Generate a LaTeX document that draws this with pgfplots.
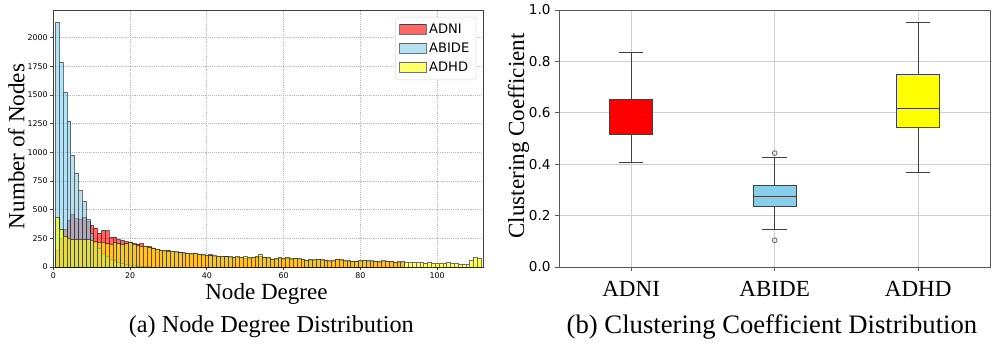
\documentclass[border=0pt]{standalone}
\usepackage{fontspec}
\setmainfont{Liberation Serif}
\newfontfamily\djv{DejaVu Sans}
\usepackage{pgfplots}
\usepackage{pgfplotstable}
\pgfplotsset{compat=1.18}
\usepgfplotslibrary{statistics}

\definecolor{adni}{RGB}{255,0,0}
\definecolor{abide}{RGB}{135,206,235}
\definecolor{adhd}{RGB}{255,255,0}
\definecolor{gridgray}{RGB}{208,208,208}

% histogram counts, one bin per node degree
\pgfplotstableread{
deg n
1 150
2 250
3 330
4 410
5 460
6 425
7 420
8 435
9 400
10 364
11 340
12 295
13 320
14 318
15 258
16 262
17 240
18 232
19 222
20 215
21 205
22 200
23 205
24 182
25 178
26 168
27 152
28 150
29 140
30 150
31 135
32 130
33 128
34 122
35 118
36 115
37 120
38 108
39 105
40 100
41 108
42 98
43 92
44 90
45 92
46 88
47 85
48 88
49 82
50 80
51 78
52 82
53 88
54 98
55 84
56 78
57 70
58 72
59 76
60 70
61 80
62 72
63 74
64 68
65 64
66 58
67 62
68 60
69 66
70 60
71 62
72 52
73 54
74 66
75 60
76 52
77 54
78 50
79 46
80 54
81 56
82 54
83 50
84 46
85 44
86 50
87 46
88 48
89 40
90 42
91 40
}\adni

\pgfplotstableread{
deg n
1 2134
2 1787
3 1525
4 1272
5 975
6 821
7 667
8 571
9 416
10 295
11 215
12 160
13 120
14 92
15 72
16 58
17 44
18 34
19 26
20 19
21 13
22 9
23 6
24 4
25 3
26 2
}\abide

\pgfplotstableread{
deg n
1 437
2 330
3 270
4 255
5 238
6 240
7 240
8 238
9 238
10 236
11 225
12 215
13 218
14 205
15 200
16 212
17 205
18 195
19 205
20 212
21 200
22 188
23 182
24 180
25 170
26 162
27 156
28 150
29 146
30 140
31 140
32 135
33 126
34 125
35 120
36 117
37 120
38 115
39 110
40 104
41 100
42 100
43 95
44 96
45 90
46 93
47 88
48 92
49 86
50 90
51 82
52 88
53 95
54 110
55 88
56 82
57 72
58 78
59 82
60 75
61 88
62 78
63 80
64 74
65 70
66 62
67 66
68 64
69 70
70 64
71 60
72 56
73 58
74 72
75 66
76 56
77 60
78 54
79 50
80 58
81 60
82 58
83 56
84 50
85 48
86 56
87 50
88 52
89 45
90 48
91 50
92 40
93 42
94 38
95 40
96 38
97 36
98 38
99 32
100 35
101 30
102 36
103 40
104 30
105 33
106 28
107 25
108 20
109 55
110 82
111 78
}\adhd

\begin{document}
\begin{tikzpicture}
\useasboundingbox (0pt,0pt) rectangle (747pt,258pt);

\begin{axis}[
    at={(40pt,57.75pt)}, anchor=south west, scale only axis,
    width=322.3pt, height=192.75pt,
    ybar,
    xmin=0, xmax=112, ymin=0, ymax=2242,
    xtick={0,20,...,100}, ytick={0,250,...,2000},
    tick pos=left,
    /pgf/number format/1000 sep={},
    /pgf/number format/assume math mode=true,
    tick label style={font=\djv\fontsize{5.9}{7}\selectfont, inner sep=1.5pt},
    xmajorgrids, ymajorgrids,
    grid style={densely dotted, black!28, line width=0.5pt},
    axis line style={black!75, line width=0.7pt},
    tick align=outside, major tick length=2.5pt,
    tick style={black!75, line width=0.5pt},
    xlabel={Node Degree}, ylabel={Number of Nodes},
    label style={font=\fontsize{17.3}{20}\selectfont, inner sep=0pt},
    xlabel style={at={(axis description cs:0.496,-0.105)}, anchor=center},
    ylabel style={at={(axis description cs:-0.086,0.469)}, anchor=center},
    legend style={at={(0.984,0.973)}, anchor=north east,
        font=\djv\fontsize{9.8}{11}\selectfont, draw=black!15,
        rounded corners=2pt, inner sep=3pt, row sep=1.5pt},
    legend cell align=left,
    legend image code/.code={\draw[#1, sharp corners] (0pt,-3.5pt) rectangle (20pt,4pt);},
]
\addplot[bar width=1, bar shift=0pt, fill=adni, fill opacity=0.6,
    draw=black, draw opacity=0.55, line width=0.35pt]
    table[x=deg, y=n] {\adni};
\addplot[bar width=1, bar shift=0pt, fill=abide, fill opacity=0.6,
    draw=black, draw opacity=0.55, line width=0.35pt]
    table[x=deg, y=n] {\abide};
\addplot[bar width=1, bar shift=0pt, fill=adhd, fill opacity=0.6,
    draw=black, draw opacity=0.55, line width=0.35pt]
    table[x=deg, y=n] {\adhd};
\legend{ADNI, ABIDE, ADHD}
\end{axis}

\begin{axis}[
    at={(419.5pt,57.75pt)}, anchor=south west, scale only axis,
    width=323pt, height=192.75pt,
    xmin=0.5, xmax=3.5, ymin=0, ymax=1,
    xtick={1,2,3}, xticklabels={ADNI,ABIDE,ADHD},
    ytick={0,0.2,...,1.0},
    tick pos=left,
    xmajorgrids, ymajorgrids,
    grid style={gridgray, line width=0.75pt},
    axis line style={black!65, line width=0.75pt},
    tick align=outside, major tick length=3pt,
    tick style={black!65, line width=0.6pt},
    /pgf/number format/assume math mode=true,
    xticklabel style={font=\fontsize{17.3}{20}\selectfont, yshift=-4pt},
    yticklabel style={font=\djv\fontsize{10.2}{12}\selectfont,
        /pgf/number format/.cd, fixed, fixed zerofill, precision=1},
    ylabel={Clustering Coefficient},
    ylabel style={font=\fontsize{17.3}{20}\selectfont,
        at={(axis description cs:-0.095,0.51)}, anchor=center},
    boxplot/draw direction=y,
    boxplot/box extend=0.3, boxplot/whisker extend=0.17,
]
\addplot[boxplot prepared={draw position=1, lower whisker=0.405,
    lower quartile=0.517, median=0.582, upper quartile=0.652,
    upper whisker=0.835}, draw=black!75, fill=adni, line width=0.75pt]
    coordinates {};
\addplot[boxplot prepared={draw position=2, lower whisker=0.145,
    lower quartile=0.234, median=0.275, upper quartile=0.316,
    upper whisker=0.425}, draw=black!75, fill=abide, line width=0.75pt,
    mark=o, mark size=1.8pt, mark options={draw=black!60, fill=none, line width=0.6pt}]
    table[row sep=\\, y=y] {y\\ 0.443\\ 0.104\\};
\addplot[boxplot prepared={draw position=3, lower whisker=0.366,
    lower quartile=0.542, median=0.617, upper quartile=0.749,
    upper whisker=0.953}, draw=black!75, fill=adhd, line width=0.75pt]
    coordinates {};
\end{axis}

\node[font=\fontsize{18.2}{22}\selectfont] at (203.5pt,12.75pt) {(a) Node Degree Distribution};
\node[font=\fontsize{20}{24}\selectfont] at (579pt,12.75pt) {(b) Clustering Coefficient Distribution};
\end{tikzpicture}
\end{document}
